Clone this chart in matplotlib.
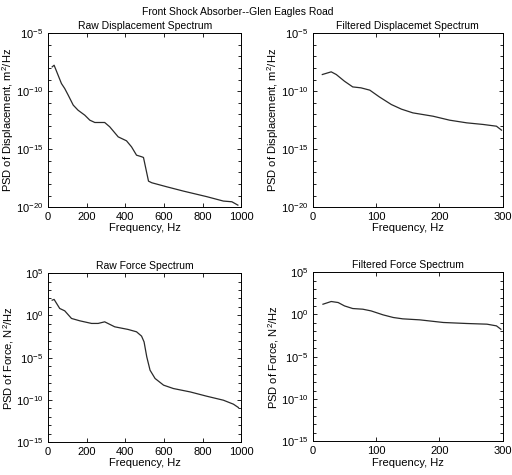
"""Front shock absorber PSD spectra, Glen Eagles Road."""

import matplotlib
matplotlib.use("Agg")
import matplotlib.pyplot as plt
import numpy as np
from matplotlib.ticker import FixedLocator, NullFormatter, LogFormatterMathtext

plt.rcParams["font.family"] = ["Liberation Sans", "DejaVu Sans"]
plt.rcParams["font.size"] = 8
plt.rcParams["mathtext.fontset"] = "custom"
plt.rcParams["mathtext.rm"] = "Liberation Sans"
plt.rcParams["mathtext.it"] = "Liberation Sans"

# Raw displacement spectrum (Hz, log10 of m^2/Hz)
raw_disp_f = [21, 31, 69, 86, 104, 130, 155, 190, 216, 242, 293, 319, 363,
              406, 432, 458, 485, 494, 520, 537, 615, 701, 822, 908, 952, 983]
raw_disp_exp = [-7.9, -7.76, -9.34, -9.77, -10.34, -11.2, -11.64, -12.07,
                -12.5, -12.7, -12.7, -13.07, -13.94, -14.28, -14.8, -15.52,
                -15.66, -15.72, -17.76, -17.9, -18.25, -18.62, -19.1, -19.48,
                -19.54, -19.83]

# Filtered displacement spectrum
filt_disp_f = [15, 29, 37, 50, 63, 76, 90, 105, 124, 140, 158, 190, 216,
               243, 269, 290, 298]
filt_disp_exp = [-8.56, -8.33, -8.56, -9.14, -9.63, -9.71, -9.91, -10.49,
                 -11.15, -11.55, -11.87, -12.16, -12.5, -12.73, -12.87,
                 -13.02, -13.36]

# Raw force spectrum (log10 of N^2/Hz)
raw_force_f = [21, 31, 60, 86, 121, 164, 225, 259, 293, 345, 414, 458, 484,
               497, 511, 528, 554, 598, 649, 736, 822, 908, 960, 986]
raw_force_exp = [1.8, 1.89, 0.82, 0.54, -0.36, -0.64, -0.95, -0.95, -0.76,
                 -1.35, -1.66, -1.94, -2.45, -3.13, -4.9, -6.48, -7.46,
                 -8.25, -8.65, -9.05, -9.56, -10.03, -10.5, -10.9]

# Filtered force spectrum
filt_force_f = [16, 29, 40, 50, 63, 79, 92, 111, 127, 142, 169, 206, 243,
                275, 290, 297]
filt_force_exp = [1.21, 1.53, 1.41, 1.01, 0.7, 0.62, 0.42, -0.05, -0.36,
                  -0.52, -0.64, -0.95, -1.07, -1.15, -1.35, -1.75]

fig = plt.figure(figsize=(5.12, 4.75), dpi=100)
fig.text(0.465, 0.975, "Front Shock Absorber--Glen Eagles Road",
         ha="center", va="center", fontsize=7.5)

panels = [
    ([0.094, 0.564, 0.377, 0.366], raw_disp_f, raw_disp_exp, 1000,
     "Raw Displacement Spectrum", "PSD of Displacement, m$^2$/Hz", (-20, -5)),
    ([0.611, 0.564, 0.371, 0.366], filt_disp_f, filt_disp_exp, 300,
     "Filtered Displacemet Spectrum", "PSD of Displacement, m$^2$/Hz", (-20, -5)),
    ([0.094, 0.069, 0.377, 0.356], raw_force_f, raw_force_exp, 1000,
     "Raw Force Spectrum", "PSD of Force, N$^2$/Hz", (-15, 5)),
    ([0.611, 0.071, 0.371, 0.356], filt_force_f, filt_force_exp, 300,
     "Filtered Force Spectrum", "PSD of Force, N$^2$/Hz", (-15, 5)),
]

for rect, f, e, xmax, title, ylabel, (lo, hi) in panels:
    ax = fig.add_axes(rect)
    ax.semilogy(f, 10.0 ** np.array(e), color="#2a2a2a", lw=0.9)
    ax.set_xlim(0, xmax)
    ax.set_ylim(10.0 ** lo, 10.0 ** hi)
    if xmax == 1000:
        ax.set_xticks([0, 200, 400, 600, 800, 1000])
    else:
        ax.set_xticks([0, 100, 200, 300])
    ax.yaxis.set_major_locator(FixedLocator([10.0 ** k for k in range(lo, hi + 1, 5)]))
    ax.yaxis.set_major_formatter(LogFormatterMathtext())
    ax.yaxis.set_minor_locator(FixedLocator([10.0 ** k for k in range(lo, hi + 1)]))
    ax.yaxis.set_minor_formatter(NullFormatter())
    ax.tick_params(which="both", direction="in", top=True, right=True,
                   labelsize=8, width=0.6)
    ax.tick_params(which="major", length=3)
    ax.tick_params(which="minor", length=2)
    for s in ax.spines.values():
        s.set_linewidth(0.7)
    ax.set_title(title, fontsize=7.5, pad=3)
    ax.set_xlabel("Frequency, Hz", fontsize=8, labelpad=1)
    ax.set_ylabel(ylabel, fontsize=8, labelpad=0)

fig.savefig("out.png", dpi=100)
